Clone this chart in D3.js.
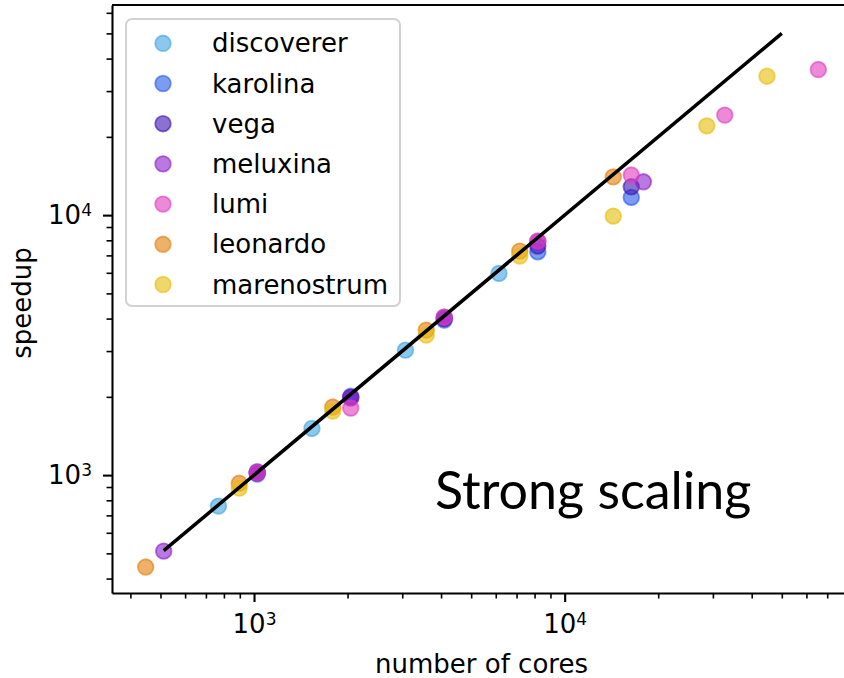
<!DOCTYPE html>
<html>
<head>
<meta charset="utf-8">
<script src="https://cdn.jsdelivr.net/npm/d3@7"></script>
<style>
  body { margin: 0; background: #fff; }
  svg { display: block; }
</style>
</head>
<body>
<script>
// systems, in drawing order
const systems = ["discoverer", "karolina", "vega", "meluxina", "lumi", "leonardo", "marenostrum"];
const systemColors = ["#3fa3e3", "#2459e8", "#3c14b0", "#8a20cc", "#df3cbe", "#e37d0a", "#e6bd08"];

const discovererCores   = [768, 1536, 3072, 6144];
const discovererSpeedup = [760, 1512, 3025, 5970];

const karolinaCores   = [1024, 2048, 4096, 8192, 16384];
const karolinaSpeedup = [1010, 2010, 3950, 7230, 11700];

const vegaCores   = [1024, 2048, 4096, 8192, 16384];
const vegaSpeedup = [1020, 1990, 4000, 7600, 12850];

const meluxinaCores   = [512, 1024, 2048, 4096, 8192, 17920];
const meluxinaSpeedup = [510, 1030, 1980, 4050, 7900, 13430];

const lumiCores   = [1024, 2048, 4096, 8192, 16384, 32768, 65536];
const lumiSpeedup = [1020, 1810, 4050, 7950, 14260, 24250, 36300];

const leonardoCores   = [448, 896, 1792, 3584, 7168, 14336];
const leonardoSpeedup = [443, 930, 1827, 3612, 7270, 14030];

const marenostrumCores   = [896, 1792, 3584, 7168, 14336, 28672, 44800];
const marenostrumSpeedup = [891, 1763, 3457, 6960, 9910, 22050, 34230];

// ideal scaling line
const idealCores = [512, 50000];

// axis ticks
const xMajor = [1e3, 1e4];
const xMinor = [400, 500, 600, 700, 800, 900, 2000, 3000, 4000, 5000, 6000, 7000, 8000, 9000,
                20000, 30000, 40000, 50000, 60000, 70000, 80000];
const yMajor = [1e3, 1e4];
const yMinor = [400, 500, 600, 700, 800, 900, 2000, 3000, 4000, 5000, 6000, 7000, 8000, 9000,
                20000, 30000, 40000, 50000, 60000];

const seriesCores   = [discovererCores, karolinaCores, vegaCores, meluxinaCores, lumiCores, leonardoCores, marenostrumCores];
const seriesSpeedup = [discovererSpeedup, karolinaSpeedup, vegaSpeedup, meluxinaSpeedup, lumiSpeedup, leonardoSpeedup, marenostrumSpeedup];

drawScaling();

function drawScaling() {
  const W = 844, H = 678;
  const left = 112, right = 851, top = 5, bottom = 593;
  const font = "'DejaVu Sans', sans-serif";

  const svg = d3.select("body").append("svg")
    .attr("width", W)
    .attr("height", H);

  const x = d3.scaleLog().domain([349, 83500]).range([left, right]);
  const y = d3.scaleLog().domain([352, 64300]).range([bottom, top]);

  // points
  systems.forEach((s, i) => {
    const pts = seriesCores[i].map((c, j) => ({ c: c, s: seriesSpeedup[i][j] }));
    svg.append("g")
      .selectAll("circle")
      .data(pts)
      .enter()
      .append("circle")
        .attr("cx", d => x(d.c))
        .attr("cy", d => y(d.s))
        .attr("r", 7.8)
        .attr("fill", systemColors[i])
        .attr("fill-opacity", 0.6)
        .attr("stroke", systemColors[i])
        .attr("stroke-opacity", 0.6)
        .attr("stroke-width", 1.8);
  });

  // ideal line
  svg.append("path")
    .datum(idealCores)
    .attr("d", d3.line().x(d => x(d)).y(d => y(d)))
    .attr("fill", "none")
    .attr("stroke", "#000")
    .attr("stroke-width", 3.5);

  // superscript labels 10^n
  const powerLabel = sel => sel.selectAll(".tick text").each(function(d) {
    const t = d3.select(this);
    t.text(null);
    t.append("tspan").text("10");
    t.append("tspan")
      .attr("dy", "-8")
      .attr("font-size", 17)
      .text(Math.round(Math.log10(d)));
  });

  // x axis
  const gx = svg.append("g")
    .attr("transform", `translate(0,${bottom})`)
    .call(d3.axisBottom(x).tickValues(xMajor).tickSize(9).tickSizeOuter(0).tickPadding(13))
    .attr("font-size", 26)
    .attr("font-family", font);
  gx.call(powerLabel);
  svg.append("g")
    .attr("transform", `translate(0,${bottom})`)
    .call(d3.axisBottom(x).tickValues(xMinor).tickSize(5.5).tickFormat(""))
    .call(g => g.select(".domain").remove())
    .selectAll("line").attr("stroke-width", 1.6);

  // y axis
  const gy = svg.append("g")
    .attr("transform", `translate(${left},0)`)
    .call(d3.axisLeft(y).tickValues(yMajor).tickSize(9).tickSizeOuter(0).tickPadding(11))
    .attr("font-size", 26)
    .attr("font-family", font);
  gy.call(powerLabel);
  svg.append("g")
    .attr("transform", `translate(${left},0)`)
    .call(d3.axisLeft(y).tickValues(yMinor).tickSize(5.5).tickFormat(""))
    .call(g => g.select(".domain").remove())
    .selectAll("line").attr("stroke-width", 1.6);

  [gx, gy].forEach(g => {
    g.select(".domain").attr("stroke-width", 2.1);
    g.selectAll(".tick line").attr("stroke-width", 2.1);
  });

  // top spine (right spine falls outside the picture)
  svg.append("line")
    .attr("x1", left).attr("x2", right)
    .attr("y1", top).attr("y2", top)
    .attr("stroke", "#000")
    .attr("stroke-width", 2.1);

  // axis labels
  svg.append("text")
    .attr("x", (left + right) / 2)
    .attr("y", 673)
    .attr("text-anchor", "middle")
    .attr("font-family", font)
    .attr("font-size", 26)
    .text("number of cores");

  svg.append("text")
    .attr("transform", "rotate(-90)")
    .attr("x", -303)
    .attr("y", 31)
    .attr("text-anchor", "middle")
    .attr("font-family", font)
    .attr("font-size", 26)
    .text("speedup");

  // legend
  const legend = svg.append("g");
  legend.append("rect")
    .attr("x", 126).attr("y", 19)
    .attr("width", 274).attr("height", 287)
    .attr("rx", 6)
    .attr("fill", "#fff")
    .attr("fill-opacity", 0.8)
    .attr("stroke", "#d2d2d2")
    .attr("stroke-width", 2);

  systems.forEach((s, i) => {
    const g = legend.append("g")
      .attr("transform", `translate(163, ${43.3 + i * 40.2})`);
    g.append("circle")
      .attr("r", 7.8)
      .attr("fill", systemColors[i])
      .attr("fill-opacity", 0.6)
      .attr("stroke", systemColors[i])
      .attr("stroke-opacity", 0.6)
      .attr("stroke-width", 1.8);
    g.append("text")
      .attr("x", 49)
      .attr("y", 9)
      .attr("font-family", font)
      .attr("font-size", 26)
      .text(s);
  });

  // annotation
  svg.append("text")
    .attr("x", 435)
    .attr("y", 509)
    .attr("font-family", "Lato, 'Open Sans', sans-serif")
    .attr("font-size", 52)
    .text("Strong scaling");
}
</script>
</body>
</html>
